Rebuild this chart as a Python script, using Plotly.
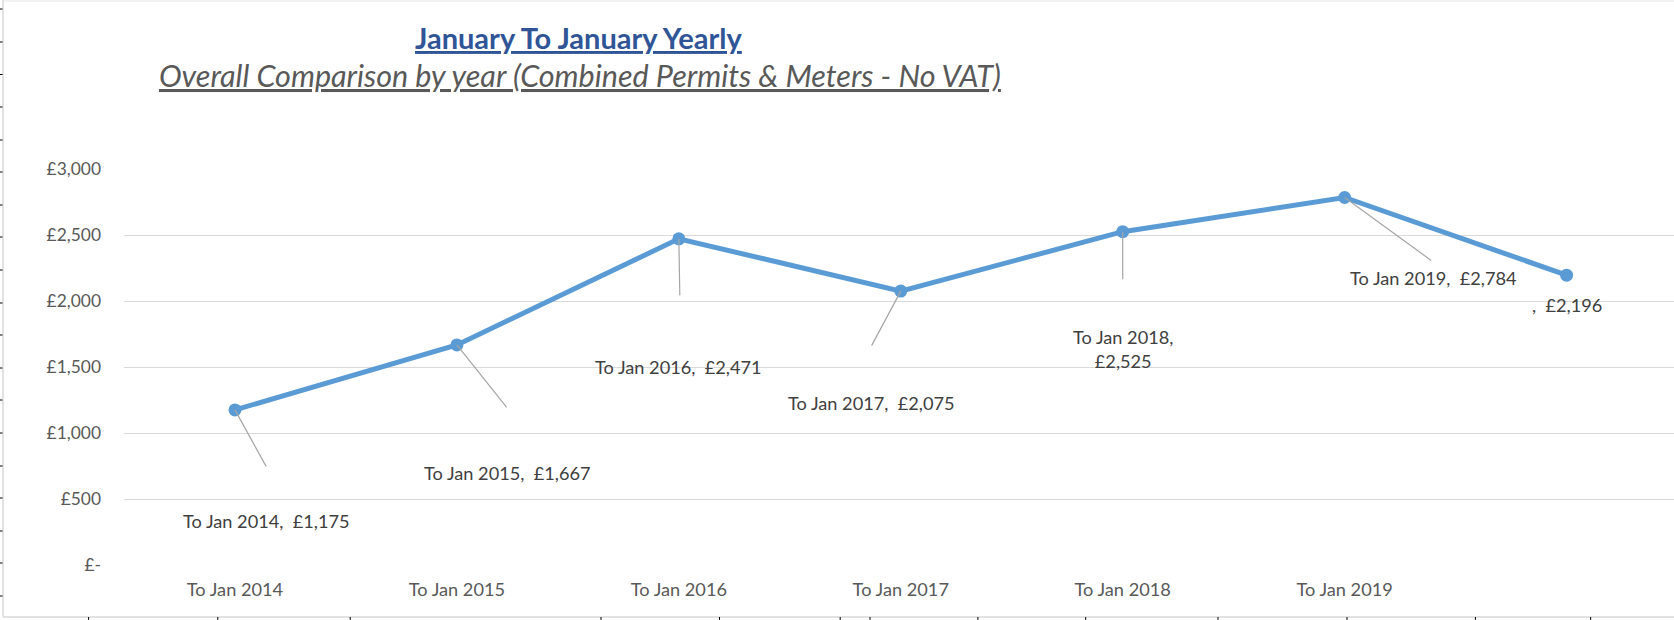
import plotly.graph_objects as go

# ---------------- data ----------------
categories = ["To Jan 2014", "To Jan 2015", "To Jan 2016", "To Jan 2017",
              "To Jan 2018", "To Jan 2019", ""]
values = [1175, 1667, 2471, 2075, 2525, 2784, 2196]
y_tick_vals = [0, 500, 1000, 1500, 2000, 2500, 3000]
y_tick_text = ["£-", "£500", "£1,000", "£1,500", "£2,000", "£2,500", "£3,000"]
title_text = "January To January Yearly"
subtitle_text = "Overall Comparison by year (Combined Permits & Meters - No VAT)"

# ---------------- styling / positioning ----------------
W, H = 1674, 620
L, R, T, B = 124, 0, 169, 55
FONT = "Lato"
LABEL_SIZE = 18.2
label_offsets = [(32, 111), (51, 128), (0, 128), (-29, 112), (0, 117), (89, 80), (0, 30)]
leader_offsets = [(32, 58), (51, 64), (1, 58), (-30, 56), (0, 49), (88, 64), None]
label_wrap = [False, False, False, False, True, False, False]

def px_x(px):
    return (px - L) / (W - L - R)

def px_y(py):
    return (H - B - py) / (H - B - T)

xs = list(range(len(categories)))

fig = go.Figure()
fig.add_trace(go.Scatter(
    x=xs, y=values, mode="lines+markers",
    line=dict(color="#5B9BD5", width=5),
    marker=dict(color="#5B9BD5", size=13),
    hoverinfo="skip", showlegend=False,
))

annotations = []
for i, (cat, v) in enumerate(zip(categories, values)):
    sep = ",<br>" if label_wrap[i] else ",  "
    txt = f"{cat}{sep}£{v:,}"
    dx, dy = label_offsets[i]
    annotations.append(dict(
        x=i, y=v, xref="x", yref="y", text=txt, showarrow=False,
        xshift=dx, yshift=-dy, xanchor="center", yanchor="middle",
        font=dict(family=FONT, size=LABEL_SIZE, color="#404040"), align="center",
    ))
    if leader_offsets[i] is not None:
        lx, ly = leader_offsets[i]
        annotations.append(dict(
            x=i, y=v, xref="x", yref="y", text="", showarrow=True,
            ax=lx, ay=ly, arrowhead=0, arrowwidth=1.2, arrowcolor="#A5A5A5",
            standoff=0, startstandoff=0,
        ))

annotations.append(dict(
    x=px_x(579), y=px_y(37), xref="paper", yref="paper",
    text=f"<b><u>{title_text}</u></b>", showarrow=False,
    xanchor="center", yanchor="middle",
    font=dict(family=FONT, size=29, color="#2F5597"),
))
annotations.append(dict(
    x=px_x(580), y=px_y(75), xref="paper", yref="paper",
    text=f"<i><u>{subtitle_text}</u></i>", showarrow=False,
    xanchor="center", yanchor="middle",
    font=dict(family=FONT, size=30.5, color="#595959"),
))

# decorative chart border & sheet ticks
shapes = [
    dict(type="line", xref="paper", yref="paper", x0=px_x(3), x1=px_x(3),
         y0=px_y(0), y1=px_y(617), line=dict(color="#D9D9D9", width=1.5)),
    dict(type="line", xref="paper", yref="paper", x0=px_x(3), x1=px_x(1674),
         y0=px_y(617), y1=px_y(617), line=dict(color="#D9D9D9", width=1.5)),
    dict(type="line", xref="paper", yref="paper", x0=px_x(3), x1=px_x(1674),
         y0=px_y(1), y1=px_y(1), line=dict(color="#E6E6E6", width=1)),
]
left_ticks = [9, 42, 74.5, 107, 140, 172, 205, 237, 270, 303, 335, 368, 400, 433, 466, 498, 531, 563, 596]
for ty in left_ticks:
    shapes.append(dict(type="line", xref="paper", yref="paper", x0=px_x(0), x1=px_x(2.5),
                       y0=px_y(ty), y1=px_y(ty), line=dict(color="#000000", width=1)))
bottom_ticks = [88.6, 217.8, 350.2, 601, 719.5, 840.2, 870, 977.9, 1085.7, 1218, 1347, 1475.4, 1590.7]
for tx in bottom_ticks:
    shapes.append(dict(type="line", xref="paper", yref="paper", x0=px_x(tx), x1=px_x(tx),
                       y0=px_y(617), y1=px_y(620), line=dict(color="#000000", width=1)))

fig.update_layout(
    width=W, height=H, autosize=False,
    margin=dict(l=L, r=R, t=T, b=B, pad=0),
    paper_bgcolor="white", plot_bgcolor="white",
    annotations=annotations, shapes=shapes,
    xaxis=dict(
        range=[-0.5, 6.484], tickvals=xs[:-1], ticktext=categories[:-1],
        showgrid=False, zeroline=False, showline=False, ticks="",
        tickfont=dict(family=FONT, size=LABEL_SIZE, color="#595959"),
        ticklabelstandoff=12, fixedrange=True,
    ),
    yaxis=dict(
        range=[0, 3000], tickvals=y_tick_vals, ticktext=y_tick_text,
        showgrid=True, gridcolor="#D9D9D9", gridwidth=1.3,
        zeroline=False, showline=False, ticks="",
        tickfont=dict(family=FONT, size=17.4, color="#595959"),
        ticklabelstandoff=22, fixedrange=True,
    ),
)

fig.write_html(
    "out.html",
    config={"displayModeBar": False},
    post_script="document.body.style.margin='0';document.body.style.overflow='hidden';",
)
